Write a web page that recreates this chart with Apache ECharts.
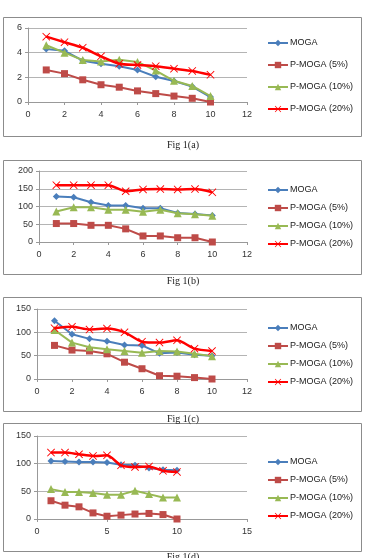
<!DOCTYPE html>
<html lang="en" style="height: 100%">
<head>
  <meta charset="utf-8">
</head>
<body style="height: 100%; margin: 0; background: #fff">
  <div id="container" style="width: 366px; height: 558px"></div>

  <script type="text/javascript" src="https://cdn.jsdelivr.net/npm/echarts@6/dist/echarts.min.js"></script>

  <script type="text/javascript">
    // data
    var runs = [1, 2, 3, 4, 5, 6, 7, 8, 9, 10];
    var seriesNames = ['MOGA', 'P-MOGA (5%)', 'P-MOGA (10%)', 'P-MOGA (20%)'];
    var captions = ['Fig 1(a)', 'Fig 1(b)', 'Fig 1(c)', 'Fig 1(d)'];

    var figA_moga = [4.3, 4.15, 3.35, 3.1, 2.9, 2.6, 2.05, 1.7, 1.25, 0.4];
    var figA_p5 = [2.6, 2.3, 1.8, 1.4, 1.2, 0.9, 0.68, 0.48, 0.3, 0];
    var figA_p10 = [4.6, 4.0, 3.4, 3.28, 3.42, 3.25, 2.55, 1.72, 1.3, 0.48];
    var figA_p20 = [5.3, 4.85, 4.4, 3.7, 3.1, 3.0, 2.9, 2.7, 2.52, 2.2];

    var figB_moga = [128, 126, 112, 103, 103, 95, 95, 82, 79, 75];
    var figB_p5 = [52, 52, 47, 47, 37, 17, 17, 12, 12, 0];
    var figB_p10 = [86, 98, 98, 91, 91, 85, 91, 81, 78, 74];
    var figB_p20 = [160, 160, 160, 160, 143, 148, 149, 148, 149, 140];

    var figC_moga = [125, 96, 86, 81, 73, 72, 55, 57, 52, 50];
    var figC_p5 = [72, 62, 60, 54, 36, 22, 7, 6, 3, 0];
    var figC_p10 = [105, 78, 68, 64, 60, 56, 60, 59, 54, 49];
    var figC_p20 = [109, 112, 106, 108, 100, 80, 78, 83, 65, 60];

    var figD_moga = [105, 104, 103, 103, 102, 98, 97, 92, 89, 88];
    var figD_p5 = [33, 25, 22, 11, 5, 7, 9, 10, 8, 0];
    var figD_p10 = [54, 49, 49, 47, 44, 44, 51, 45, 39, 39];
    var figD_p20 = [120, 120, 117, 114, 115, 97, 94, 95, 87, 85];

    var panels = [
      [figA_moga, figA_p5, figA_p10, figA_p20],
      [figB_moga, figB_p5, figB_p10, figB_p20],
      [figC_moga, figC_p5, figC_p10, figC_p20],
      [figD_moga, figD_p5, figD_p10, figD_p20]
    ];
    var yMax = [6, 200, 150, 150];
    var yStep = [2, 50, 50, 50];
    var xMax = [12, 12, 12, 15];
    var xStep = [2, 2, 2, 5];

    // layout of each panel (pixels)
    var boxes = [
      { grid: { left: 28, top: 28, width: 219, height: 74 }, frame: [3, 17, 358, 119], legendTop: 38, legendGap: 12, cap: 145 },
      { grid: { left: 39, top: 171, width: 208, height: 71 }, frame: [3, 160, 358, 114], legendTop: 185, legendGap: 8, cap: 281 },
      { grid: { left: 37, top: 309, width: 210, height: 70 }, frame: [3, 297, 358, 114], legendTop: 323, legendGap: 8, cap: 419 },
      { grid: { left: 37, top: 436, width: 210, height: 83 }, frame: [3, 423, 358, 128], legendTop: 457, legendGap: 8, cap: 557 }
    ];

    var colors = ['#4a7ebb', '#be4b48', '#98b954', '#ff0000'];
    var crossPath = 'path://M0,0.8L0.8,0L5,4.2L9.2,0L10,0.8L5.8,5L10,9.2L9.2,10L5,5.8L0.8,10L0,9.2L4.2,5Z';
    var symbols = ['diamond', 'rect', 'triangle', crossPath];
    var symbolSizes = [7, 7, 8, 8];

    var dom = document.getElementById('container');
    var myChart = echarts.init(dom, null, { renderer: 'canvas' });

    var grids = [], xAxes = [], yAxes = [], series = [], legends = [], graphics = [];
    var labelStyle = { color: '#333', fontSize: 9, fontFamily: 'Liberation Sans' };

    boxes.forEach(function (b, p) {
      grids.push(b.grid);
      xAxes.push({
        type: 'value', gridIndex: p, min: 0, max: xMax[p], interval: xStep[p],
        axisLine: { show: true, lineStyle: { color: '#999', width: 1 } },
        axisTick: { show: true, length: 3, lineStyle: { color: '#999' } },
        axisLabel: Object.assign({ margin: 8 }, labelStyle),
        splitLine: { show: false }
      });
      yAxes.push({
        type: 'value', gridIndex: p, min: 0, max: yMax[p], interval: yStep[p],
        axisLine: { show: true, lineStyle: { color: '#999', width: 1 } },
        axisTick: { show: true, length: 3, lineStyle: { color: '#999' } },
        axisLabel: Object.assign({ margin: 6 }, labelStyle),
        splitLine: { show: true, lineStyle: { color: '#b4b4b4', width: 1 } }
      });
      panels[p].forEach(function (vals, s) {
        series.push({
          name: seriesNames[s],
          type: 'line',
          xAxisIndex: p,
          yAxisIndex: p,
          data: runs.map(function (x, i) { return [x, vals[i]]; }),
          smooth: s === 3 ? 0.25 : false,
          symbol: symbols[s],
          symbolSize: symbolSizes[s],
          lineStyle: { color: colors[s], width: s === 3 ? 2.5 : 2 },
          itemStyle: { color: colors[s] },
          z: 2 + s
        });
      });
      legends.push({
        orient: 'vertical',
        left: 267,
        top: b.legendTop,
        padding: 0,
        itemWidth: 20,
        itemHeight: 8,
        itemGap: b.legendGap,
        selectedMode: false,
        data: seriesNames,
        textStyle: { color: '#222', fontSize: 9, lineHeight: 10, fontFamily: 'Liberation Sans', padding: [0, 0, 0, -3] }
      });
      graphics.push({
        type: 'rect',
        shape: { x: b.frame[0] + 0.5, y: b.frame[1] + 0.5, width: b.frame[2], height: b.frame[3] },
        style: { fill: 'none', stroke: '#8c8c8c', lineWidth: 1 },
        z: -1
      });
      graphics.push({
        type: 'text',
        x: 183,
        y: b.cap,
        style: {
          text: captions[p], fill: '#222', font: '10px "Liberation Serif"',
          textAlign: 'center', textVerticalAlign: 'middle'
        }
      });
    });

    var option = {
      animation: false,
      backgroundColor: '#fff',
      grid: grids,
      xAxis: xAxes,
      yAxis: yAxes,
      legend: legends,
      series: series,
      graphic: graphics
    };

    myChart.setOption(option);
    window.addEventListener('resize', myChart.resize);
  </script>
</body>
</html>
